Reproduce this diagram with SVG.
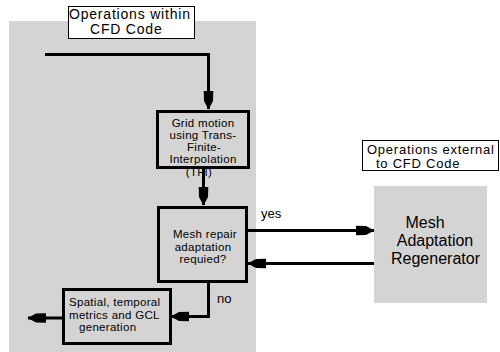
<svg xmlns="http://www.w3.org/2000/svg" width="500" height="352" viewBox="0 0 500 352">
  <style>
    text { font-family: "Liberation Sans", Arial, sans-serif; fill: #000; }
    .lbl { font-size: 14px; }
    .box { font-size: 11.5px; letter-spacing: 0.3px; }
    .big { font-size: 16px; }
    .tag { font-size: 13px; }
    .node { fill: #d4d4d4; stroke: #000; stroke-width: 3; }
    .frame { fill: #fff; stroke: #000; stroke-width: 1; }
    .wire { fill: none; stroke: #000; stroke-width: 3; }
  </style>
  <defs>
    <marker id="head" markerUnits="userSpaceOnUse" viewBox="-20 -6 22 12" refX="0" refY="0" markerWidth="22" markerHeight="12" orient="auto">
      <path d="M0.5,0 L-8,-4.5 L-18,-4.8 L-18,4.8 L-8,4.5 Z" fill="#000"/>
    </marker>
  </defs>

  <!-- region of operations inside the solver -->
  <rect x="9" y="21" width="247" height="331" fill="#d4d4d4"/>

  <g id="label-within">
    <rect class="frame" x="68.5" y="6.5" width="126" height="32"/>
    <text class="lbl" x="69" y="18.5" letter-spacing="0.8">Operations within</text>
    <text class="lbl" x="90" y="33.5" letter-spacing="0.8">CFD Code</text>
  </g>

  <g id="label-external">
    <rect class="frame" x="362.5" y="140.5" width="136" height="30"/>
    <text x="367" y="154" font-size="13" letter-spacing="0.75">Operations external</text>
    <text x="376" y="168" font-size="13" letter-spacing="0.75">to CFD Code</text>
  </g>

  <g id="grid-motion">
    <rect class="node" x="157.5" y="111.5" width="91" height="56"/>
    <text class="box" text-anchor="middle" x="203" y="127">Grid motion</text>
    <text class="box" text-anchor="middle" x="203" y="138.5">using Trans-</text>
    <text class="box" text-anchor="middle" x="204" y="150.5">Finite-</text>
    <text class="box" text-anchor="middle" x="203" y="163">Interpolation</text>
    <text class="box" text-anchor="middle" x="199" y="175.5">(TFI)</text>
  </g>

  <g id="mesh-repair">
    <rect class="node" x="158.5" y="207.5" width="88" height="74"/>
    <text class="box" text-anchor="middle" x="205" y="238">Mesh repair</text>
    <text class="box" text-anchor="middle" x="203" y="250.5">adaptation</text>
    <text class="box" text-anchor="middle" x="203" y="263">requied?</text>
  </g>

  <g id="spatial-metrics">
    <rect class="node" x="63.5" y="289.5" width="107" height="54"/>
    <text class="box" x="69" y="306">Spatial, temporal</text>
    <text class="box" x="69" y="318.5">metrics and GCL</text>
    <text class="box" x="79" y="330.5">generation</text>
  </g>

  <g id="mesh-regenerator">
    <rect x="374" y="186" width="113" height="117" fill="#d4d4d4"/>
    <text class="big" text-anchor="middle" x="425" y="228">Mesh</text>
    <text class="big" text-anchor="middle" x="435" y="246">Adaptation</text>
    <text class="big" text-anchor="middle" x="435.5" y="263.5">Regenerator</text>
  </g>

  <g id="connectors">
    <path class="wire" d="M45,54.5 H208.5 V109" marker-end="url(#head)"/>
    <path class="wire" d="M203.5,169 V205" marker-end="url(#head)"/>
    <path class="wire" d="M248,230.5 H374" marker-end="url(#head)"/>
    <path class="wire" d="M374,263.5 H248" marker-end="url(#head)"/>
    <path class="wire" d="M208.5,283 V316.5 H171" marker-end="url(#head)"/>
    <path class="wire" d="M62,318 H28" marker-end="url(#head)"/>
    <text class="tag" x="261" y="218">yes</text>
    <text class="tag" x="217" y="303">no</text>
  </g>
</svg>
